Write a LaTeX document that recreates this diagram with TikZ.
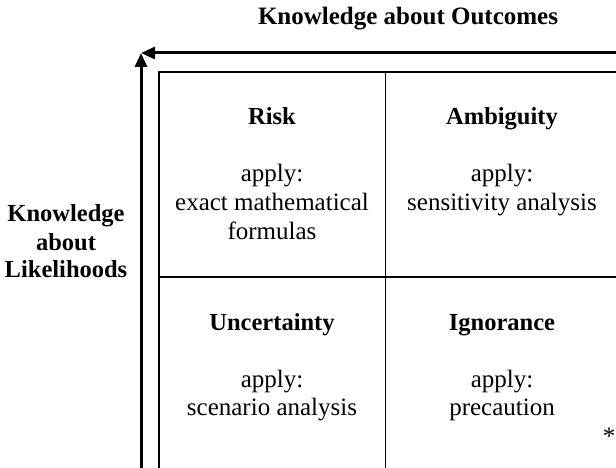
\documentclass[tikz,border=0pt]{standalone}
\usepackage{fontspec}
\setmainfont{Liberation Serif}
\usetikzlibrary{arrows.meta}
\tikzset{
  head/.style={font=\fontsize{24.5}{28.5}\selectfont\bfseries, inner sep=0pt, anchor=base},
  body/.style={font=\fontsize{25}{28.5}\selectfont, inner sep=0pt, anchor=base},
  axis/.style={line width=3pt, -{Triangle[length=14pt,width=12pt]}},
  frame/.style={line width=2pt},
  thin/.style={line width=1pt}
}
\begin{document}
\begin{tikzpicture}[x=1pt,y=-1pt]
\useasboundingbox (0,0) rectangle (616,468);
\coordinate (corner) at (141,53);
\coordinate (vstart) at (141,472);
\coordinate (hstart) at (620,53);
\draw[axis] (vstart) -- (corner);
\draw[axis] (hstart) -- (corner);
\draw[frame] (159,72) rectangle (619,480);
\draw[thin] (385,72) -- (385,480);
\draw[frame] (159,277) -- (619,277);
\node[head, font=\fontsize{25}{28.5}\selectfont\bfseries] (title) at (408,25) {Knowledge about Outcomes};
\node[head] (left1) at (66,222) {Knowledge};
\node[head] (left2) at (66,250) {about};
\node[head] (left3) at (66,277) {Likelihoods};
\node[head] (risk) at (272,125) {Risk};
\node[head] (amb) at (502,125) {Ambiguity};
\node[body] (riskb1) at (272,182) {apply:};
\node[body] (riskb2) at (272,210.5) {exact mathematical};
\node[body] (riskb3) at (272,239) {formulas};
\node[body] (ambb1) at (502,182) {apply:};
\node[body] (ambb2) at (502,210.5) {sensitivity analysis};
\node[head] (unc) at (272,330) {Uncertainty};
\node[head] (ign) at (502,330) {Ignorance};
\node[body] (uncb1) at (272,387) {apply:};
\node[body] (uncb2) at (272,415.5) {scenario analysis};
\node[body] (ignb1) at (502,387) {apply:};
\node[body] (ignb2) at (502,415.5) {precaution};
\node[body] (star) at (609,444) {*};
\end{tikzpicture}
\end{document}
